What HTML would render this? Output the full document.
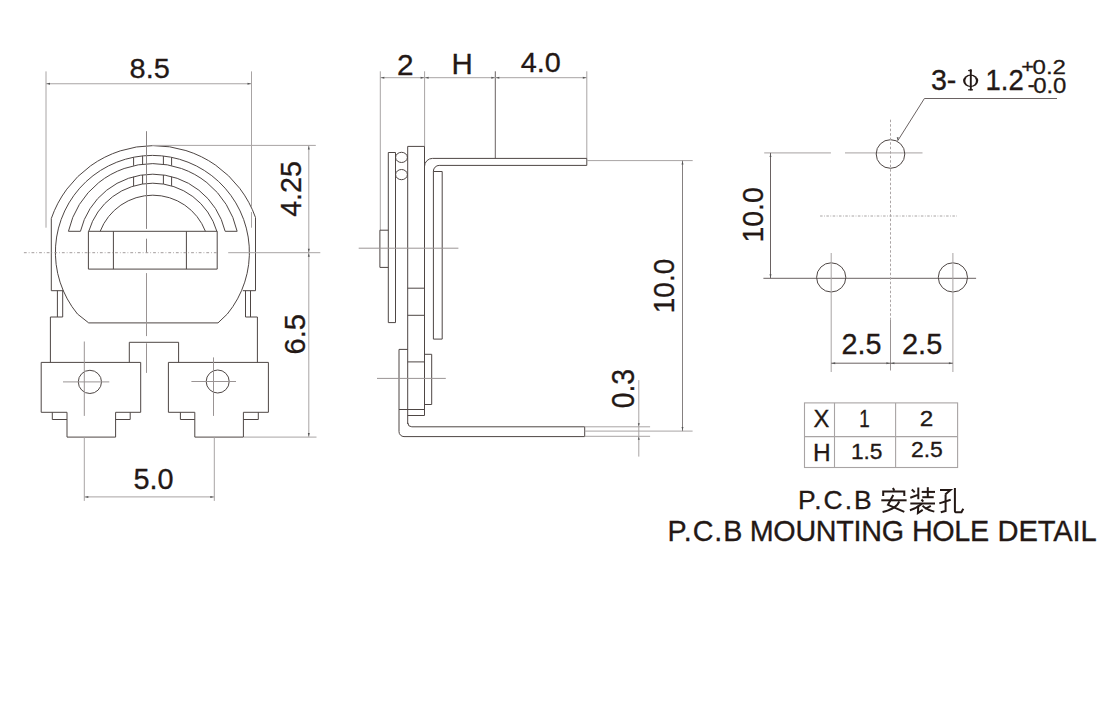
<!DOCTYPE html>
<html><head><meta charset="utf-8"><style>
html,body{margin:0;padding:0;background:#fff;}
svg{display:block;}
text{font-family:"Liberation Sans",sans-serif;fill:#231815;}
</style></head><body>
<svg width="1120" height="712" viewBox="0 0 1120 712">
<rect width="1120" height="712" fill="#fff"/>
<path d="M51.3,290.7 V218.5 A108.2,108.2 0 0 1 255.5,217.5 V290.7" stroke="#4e4644" stroke-width="1.0" fill="none" />
<path d="M51.3,290.7 H63.7" stroke="#4e4644" stroke-width="1.0" fill="none" />
<path d="M57.4,290.7 V317 M62.7,290.7 V317 M50.4,317 H62.7 M50.4,317 V362.4" stroke="#4e4644" stroke-width="1.0" fill="none" />
<path d="M255.5,290.7 H242.8" stroke="#4e4644" stroke-width="1.0" fill="none" />
<path d="M245.5,290.7 V317 M250.5,290.7 V317 M245.5,317 H257.4 M257.4,317 V362.4" stroke="#4e4644" stroke-width="1.0" fill="none" />
<path d="M88.7,322.9 L77.47,314.0 A97.0,97.0 0 1 1 227.33,314.0 L218,322.9 Z" stroke="#4e4644" stroke-width="1.0" fill="none" />
<path d="M68.45,231.3 A86.4,86.4 0 0 1 237.15,231.3 L225.16,231.3 A74.4,74.4 0 0 0 80.44,231.3 Z" stroke="#4e4644" stroke-width="1.0" fill="none" />
<path d="M88.75,231.3 A66.7,66.7 0 0 1 216.85,231.3" stroke="#4e4644" stroke-width="1.0" fill="none" />
<path d="M100.18,231.3 A56.4,56.4 0 0 1 205.42,231.3" stroke="#4e4644" stroke-width="1.0" fill="none" />
<path d="M88.4,231.3 H217.2 V269.1 H88.4 Z M113.4,231.3 V269.1 M186.4,231.3 V269.1" stroke="#4e4644" stroke-width="1.0" fill="none" />
<path d="M133.6,157.24 V165.76" stroke="#4e4644" stroke-width="1.0" fill="none" />
<path d="M133.6,176.72 V186.02" stroke="#4e4644" stroke-width="1.0" fill="none" />
<path d="M142.6,155.90 V164.20" stroke="#4e4644" stroke-width="1.0" fill="none" />
<path d="M142.6,174.90 V183.98" stroke="#4e4644" stroke-width="1.0" fill="none" />
<path d="M163.4,156.03 V164.25" stroke="#4e4644" stroke-width="1.0" fill="none" />
<path d="M163.4,174.96 V184.05" stroke="#4e4644" stroke-width="1.0" fill="none" />
<path d="M171.6,157.32 V165.67" stroke="#4e4644" stroke-width="1.0" fill="none" />
<path d="M171.6,176.61 V185.90" stroke="#4e4644" stroke-width="1.0" fill="none" />
<path d="M129.3,362.4 V342.3 H178.6 V362.4" stroke="#4e4644" stroke-width="1.0" fill="none" />
<path d="M41.2,362.4 H140.7 V412.3 H115.6 V437.1 H67 V412.3 H41.2 Z M52.3,412.3 V419.5 H67 M115.6,419.5 H130.2 V412.3" stroke="#4e4644" stroke-width="1.0" fill="none" />
<path d="M168.4,362.4 H268.4 V412.3 H243.4 V437.1 H194.8 V412.3 H168.4 Z M180.4,412.3 V419.5 H194.8 M243.4,419.5 H258.3 V412.3" stroke="#4e4644" stroke-width="1.0" fill="none" />
<circle cx="89.9" cy="381.9" r="11.6" stroke="#4e4644" stroke-width="1.0" fill="none"/>
<circle cx="217.7" cy="381.5" r="11.5" stroke="#4e4644" stroke-width="1.0" fill="none"/>
<line x1="63" y1="381.9" x2="109.3" y2="381.9" stroke="#9a9494" stroke-width="1.0" />
<line x1="84.3" y1="341.5" x2="84.3" y2="415.9" stroke="#9a9494" stroke-width="1.0" />
<line x1="191.4" y1="381.5" x2="236" y2="381.5" stroke="#9a9494" stroke-width="1.0" />
<line x1="213.5" y1="357.4" x2="213.5" y2="415.9" stroke="#9a9494" stroke-width="1.0" />
<line x1="146.5" y1="131.2" x2="146.5" y2="228.9" stroke="#8a8484" stroke-width="1.0" />
<line x1="146.5" y1="238.7" x2="146.5" y2="252.7" stroke="#8a8484" stroke-width="1.0" />
<line x1="146.5" y1="273.1" x2="146.5" y2="336.1" stroke="#9a9494" stroke-width="1.0" />
<line x1="146.5" y1="343.3" x2="146.5" y2="372.9" stroke="#9a9494" stroke-width="1.0" />
<line x1="23.9" y1="252.7" x2="217" y2="252.7" stroke="#a29c9c" stroke-width="1.0" stroke-dasharray="2.8 2 0.8 2"/>
<line x1="228.2" y1="252.7" x2="320.3" y2="252.7" stroke="#a8a4a4" stroke-width="1.0" />
<line x1="46" y1="71.4" x2="46" y2="227.7" stroke="#a8a4a4" stroke-width="1.0" />
<line x1="251.5" y1="71.4" x2="251.5" y2="207.0" stroke="#a8a4a4" stroke-width="1.0" />
<line x1="251.5" y1="212.0" x2="251.5" y2="227.7" stroke="#a8a4a4" stroke-width="1.0" />
<line x1="46" y1="83.75" x2="251.5" y2="83.75" stroke="#a8a4a4" stroke-width="1.0" />
<path d="M46.5,83.75 L50.0,82.75 L50.0,84.75 Z" fill="#555" stroke="none"/>
<path d="M251,83.75 L247.5,82.75 L247.5,84.75 Z" fill="#555" stroke="none"/>
<text transform="matrix(0.28931 0 0 0.28451 129.54 77.82)" font-size="100" stroke="#231815" stroke-width="1.04">8.5</text>
<line x1="152.1" y1="145.4" x2="315.8" y2="145.4" stroke="#a8a4a4" stroke-width="1.0" />
<line x1="308.8" y1="145.4" x2="308.8" y2="436.9" stroke="#a8a4a4" stroke-width="1.0" />
<line x1="244" y1="437.1" x2="316.5" y2="437.1" stroke="#a8a4a4" stroke-width="1.0" />
<path d="M308.8,145.9 L307.8,149.4 L309.8,149.4 Z" fill="#555" stroke="none"/>
<path d="M308.8,252.2 L307.8,248.7 L309.8,248.7 Z" fill="#555" stroke="none"/>
<path d="M308.8,253.2 L307.8,256.7 L309.8,256.7 Z" fill="#555" stroke="none"/>
<path d="M308.8,436.6 L307.8,433.1 L309.8,433.1 Z" fill="#555" stroke="none"/>
<text transform="matrix(0 -0.28670 0.29577 0 300.80 216.87)" font-size="100" stroke="#231815" stroke-width="1.05">4.25</text>
<text transform="matrix(0 -0.29154 0.29155 0 305.11 354.56)" font-size="100" stroke="#231815" stroke-width="1.03">6.5</text>
<line x1="84.3" y1="437.4" x2="84.3" y2="500.9" stroke="#a8a4a4" stroke-width="1.0" />
<line x1="214.3" y1="437.4" x2="214.3" y2="500.9" stroke="#a8a4a4" stroke-width="1.0" />
<line x1="84.3" y1="496.9" x2="214.3" y2="496.9" stroke="#a8a4a4" stroke-width="1.0" />
<path d="M84.8,496.9 L88.3,495.9 L88.3,497.9 Z" fill="#555" stroke="none"/>
<path d="M213.8,496.9 L210.3,495.9 L210.3,497.9 Z" fill="#555" stroke="none"/>
<text transform="matrix(0.28855 0 0 0.29155 133.55 488.51)" font-size="100" stroke="#231815" stroke-width="1.04">5.0</text>
<line x1="380.3" y1="71.3" x2="380.3" y2="230.2" stroke="#a8a4a4" stroke-width="1.0" />
<line x1="424.6" y1="71.3" x2="424.6" y2="146.4" stroke="#a8a4a4" stroke-width="1.0" />
<line x1="495.3" y1="71.3" x2="495.3" y2="158.3" stroke="#6a6262" stroke-width="1.0" />
<line x1="586.8" y1="71.3" x2="586.8" y2="158.3" stroke="#a8a4a4" stroke-width="1.0" />
<line x1="380.3" y1="77.7" x2="586.8" y2="77.7" stroke="#a8a4a4" stroke-width="1.0" />
<path d="M380.8,77.7 L384.3,76.7 L384.3,78.7 Z" fill="#555" stroke="none"/>
<path d="M424.1,77.7 L420.6,76.7 L420.6,78.7 Z" fill="#555" stroke="none"/>
<path d="M425.1,77.7 L428.6,76.7 L428.6,78.7 Z" fill="#555" stroke="none"/>
<path d="M494.8,77.7 L491.3,76.7 L491.3,78.7 Z" fill="#555" stroke="none"/>
<path d="M495.8,77.7 L499.3,76.7 L499.3,78.7 Z" fill="#555" stroke="none"/>
<path d="M586.3,77.7 L582.8,76.7 L582.8,78.7 Z" fill="#555" stroke="none"/>
<text transform="matrix(0.29783 0 0 0.29286 396.91 74.70)" font-size="100" stroke="#231815" stroke-width="1.01">2</text>
<text transform="matrix(0.29464 0 0 0.29420 451.54 74.30)" font-size="100" stroke="#231815" stroke-width="1.02">H</text>
<text transform="matrix(0.28797 0 0 0.28169 520.72 71.72)" font-size="100" stroke="#231815" stroke-width="1.04">4.0</text>
<path d="M388.3,322.6 V152.5 H395.5 V322.6 Z" stroke="#4e4644" stroke-width="1.0" fill="none" />
<ellipse cx="401.5" cy="157.4" rx="5.9" ry="5.1" stroke="#4e4644" stroke-width="1.0" fill="none"/>
<ellipse cx="401.5" cy="174.6" rx="5.9" ry="5.1" stroke="#4e4644" stroke-width="1.0" fill="none"/>
<path d="M407.7,424.0 V146.4 H424.5 V415.5 H407.7" stroke="#4e4644" stroke-width="1.0" fill="none" />
<path d="M407.7,288.2 H424.5 M407.7,315.3 H424.5 M407.7,361.9 H424.5 M399,409.5 H424.5" stroke="#4e4644" stroke-width="1.0" fill="none" />
<path d="M388.3,230.2 H379.9 V267.4 H388.3" stroke="#4e4644" stroke-width="1.0" fill="none" />
<path d="M424.5,166.5 A8,8 0 0 1 432.5,158.4 H586.8 V165.4 H439.2 A5.8,5.8 0 0 0 433.4,171.2 V339.1 H442.2 V171.5 H433.4" stroke="#4e4644" stroke-width="1.0" fill="none" />
<path d="M407.7,349.4 H399 V431.6 A5,5 0 0 0 404,436.6 H584.7 V426.8 H411.8 A4,4 0 0 1 407.8,422.8" stroke="#4e4644" stroke-width="1.0" fill="none" />
<path d="M424.5,354.3 H431.7 V404.5 H424.5" stroke="#4e4644" stroke-width="1.0" fill="none" />
<line x1="358.7" y1="248.2" x2="458.4" y2="248.2" stroke="#9a9494" stroke-width="1.0" />
<line x1="377" y1="378.4" x2="445.8" y2="378.4" stroke="#9a9494" stroke-width="1.0" />
<line x1="586.8" y1="160.6" x2="692.7" y2="160.6" stroke="#a8a4a4" stroke-width="1.0" />
<line x1="584.7" y1="431.1" x2="692.6" y2="431.1" stroke="#a8a4a4" stroke-width="1.0" />
<line x1="682.5" y1="160.6" x2="682.5" y2="431.1" stroke="#858080" stroke-width="1.0" />
<path d="M682.5,161.1 L681.5,164.6 L683.5,164.6 Z" fill="#555" stroke="none"/>
<path d="M682.5,430.6 L681.5,427.1 L683.5,427.1 Z" fill="#555" stroke="none"/>
<text transform="matrix(0 -0.27978 0.29014 0 673.61 313.24)" font-size="100" stroke="#231815" stroke-width="1.07">10.0</text>
<line x1="584.7" y1="426.8" x2="650.1" y2="426.8" stroke="#a8a4a4" stroke-width="1.0" />
<line x1="584.7" y1="436.3" x2="650.1" y2="436.3" stroke="#a8a4a4" stroke-width="1.0" />
<line x1="638.8" y1="380.1" x2="638.8" y2="456.6" stroke="#a8a4a4" stroke-width="1.0" />
<path d="M638.8,426.3 L637.8,423.3 L639.8,423.3 Z" fill="#555" stroke="none"/>
<path d="M638.8,436.8 L637.8,439.8 L639.8,439.8 Z" fill="#555" stroke="none"/>
<text transform="matrix(0 -0.28321 0.30563 0 633.89 408.33)" font-size="100" stroke="#231815" stroke-width="1.06">0.3</text>
<line x1="764.2" y1="152.9" x2="830.9" y2="152.9" stroke="#b8b4b4" stroke-width="1.4" />
<line x1="845" y1="152.9" x2="922.5" y2="152.9" stroke="#b8b4b4" stroke-width="1.4" />
<line x1="770.5" y1="152.9" x2="770.5" y2="278.2" stroke="#6a6262" stroke-width="1.0" />
<path d="M770.5,153.4 L769.5,156.9 L771.5,156.9 Z" fill="#555" stroke="none"/>
<path d="M770.5,277.7 L769.5,274.2 L771.5,274.2 Z" fill="#555" stroke="none"/>
<line x1="763.4" y1="278.3" x2="976.1" y2="278.3" stroke="#6a6262" stroke-width="1.0" />
<circle cx="890.5" cy="154.0" r="14.3" stroke="#4e4644" stroke-width="1.0" fill="none"/>
<circle cx="831.2" cy="277.4" r="14.6" stroke="#4e4644" stroke-width="1.0" fill="none"/>
<circle cx="952.9" cy="277.4" r="14.6" stroke="#4e4644" stroke-width="1.0" fill="none"/>
<line x1="890.5" y1="119.7" x2="890.5" y2="319.4" stroke="#aaa4a4" stroke-width="1.0" stroke-dasharray="2.5 2"/>
<line x1="890.5" y1="319.4" x2="890.5" y2="370.5" stroke="#9a9494" stroke-width="1.0" />
<line x1="820.1" y1="216" x2="957" y2="216" stroke="#a8a4a4" stroke-width="1.0" stroke-dasharray="2.5 1.5 0.8 1.5"/>
<line x1="831.2" y1="253" x2="831.2" y2="372" stroke="#a8a4a4" stroke-width="1.0" />
<line x1="952.9" y1="253" x2="952.9" y2="372" stroke="#a8a4a4" stroke-width="1.0" />
<line x1="831.2" y1="363.2" x2="952.9" y2="363.2" stroke="#6a6262" stroke-width="1.0" />
<path d="M831.7,363.2 L835.2,362.2 L835.2,364.2 Z" fill="#555" stroke="none"/>
<path d="M889.9,363.2 L886.4,362.2 L886.4,364.2 Z" fill="#555" stroke="none"/>
<path d="M890.9,363.2 L894.4,362.2 L894.4,364.2 Z" fill="#555" stroke="none"/>
<path d="M952.4,363.2 L948.9,362.2 L948.9,364.2 Z" fill="#555" stroke="none"/>
<text transform="matrix(0 -0.28415 0.30000 0 762.90 242.57)" font-size="100" stroke="#231815" stroke-width="1.06">10.0</text>
<text transform="matrix(0.28769 0 0 0.28873 841.46 353.81)" font-size="100" stroke="#231815" stroke-width="1.04">2.5</text>
<text transform="matrix(0.28923 0 0 0.28873 902.05 353.81)" font-size="100" stroke="#231815" stroke-width="1.04">2.5</text>
<path d="M897.7,140.8 L924.4,98.5 H1057" stroke="#6a6262" stroke-width="1.0" fill="none" />
<path d="M897.7,140.8 L896.7,137.3 L898.7,137.3 Z" fill="#555" stroke="none"/>
<text transform="matrix(0.28625 0 0 0.28873 930.96 89.71)" font-size="100" stroke="#231815" stroke-width="1.05">3-</text>
<ellipse cx="970.65" cy="80.85" rx="7.55" ry="6.25" fill="#231815"/><ellipse cx="970.65" cy="80.85" rx="5.3" ry="5.05" fill="#fff"/>
<path d="M970.8,69.6 V90.4" stroke="#231815" stroke-width="1.9" fill="none" />
<path d="M968.1,89.8 H973.0" stroke="#231815" stroke-width="1.2" fill="none" />
<path d="M968.0,70.6 L971.2,69.6 V71.5 Z" stroke="#231815" stroke-width="0.6" fill="#231815" />
<text transform="matrix(0.27460 0 0 0.29286 985.60 90.00)" font-size="100" stroke="#231815" stroke-width="1.09">1.2</text>
<text transform="matrix(0.24077 0 0 0.20986 1032.54 74.19)" font-size="100" stroke="#231815" stroke-width="1.25">0.2</text>
<text transform="matrix(0.21837 0 0 0.18367 1021.31 73.45)" font-size="100" stroke="#231815" stroke-width="1.37">+</text>
<text transform="matrix(0.23969 0 0 0.21408 1033.14 93.29)" font-size="100" stroke="#231815" stroke-width="1.25">0.0</text>
<text transform="matrix(0.20800 0 0 0.22500 1027.77 91.77)" font-size="100" stroke="#231815" stroke-width="1.44">-</text>
<rect x="804.5" y="402.9" width="153.1" height="64.6" fill="none" stroke="#a8a4a4" stroke-width="1.1"/>
<line x1="804.5" y1="436.6" x2="957.6" y2="436.6" stroke="#a8a4a4" stroke-width="1.1" />
<line x1="834.5" y1="402.9" x2="834.5" y2="467.5" stroke="#a8a4a4" stroke-width="1.1" />
<line x1="895.6" y1="402.9" x2="895.6" y2="467.5" stroke="#a8a4a4" stroke-width="1.1" />
<text transform="matrix(0.23770 0 0 0.23768 813.39 427.00)" font-size="100" stroke="#231815" stroke-width="1.26">X</text>
<text transform="matrix(0.18837 0 0 0.23333 859.19 427.00)" font-size="100" stroke="#231815" stroke-width="1.59">1</text>
<text transform="matrix(0.24348 0 0 0.22714 919.78 426.00)" font-size="100" stroke="#231815" stroke-width="1.23">2</text>
<text transform="matrix(0.24464 0 0 0.23333 812.94 460.70)" font-size="100" stroke="#231815" stroke-width="1.23">H</text>
<text transform="matrix(0.22756 0 0 0.23000 850.88 458.57)" font-size="100" stroke="#231815" stroke-width="1.32">1.5</text>
<text transform="matrix(0.22923 0 0 0.22676 910.95 457.27)" font-size="100" stroke="#231815" stroke-width="1.31">2.5</text>
<text transform="matrix(0.26479 0 0 0.26479 797.88 509.34)" font-size="100" letter-spacing="7.72" stroke="#231815" stroke-width="1.13">P.C.B</text>
<text transform="matrix(0.28732 0 0 0.28732 667.50 540.51)" font-size="100" letter-spacing="3.03" stroke="#231815" stroke-width="1.04">P.C.B</text>
<text transform="matrix(0.28732 0 0 0.28732 749.70 540.51)" font-size="100" letter-spacing="-0.99" stroke="#231815" stroke-width="1.04">MOUNTING</text>
<text transform="matrix(0.28732 0 0 0.28732 911.90 540.51)" font-size="100" letter-spacing="-1.17" stroke="#231815" stroke-width="1.04">HOLE</text>
<text transform="matrix(0.29143 0 0 0.29143 997.47 540.51)" font-size="100" letter-spacing="-0.32" stroke="#231815" stroke-width="1.03">DETAIL</text>
<g id="cjk" fill="none" stroke="#231815" stroke-width="2.0" stroke-linejoin="miter"><path d="M892.9,488.1 L894.4,490.8"/><path d="M883.2,496.0 V491.5 H904.3 V496.0"/><path d="M893.3,495.1 L888.0,504.8 L904.3,511.8"/><path d="M881.3,500.3 H906.6"/><path d="M899.2,501.4 Q897.0,508.5 882.6,512.0"/><path d="M911.8,489.6 L914.7,492.3"/><path d="M910.3,497.8 L917.9,494.9"/><path d="M918.3,487.5 V499.2"/><path d="M921.7,491.9 H935.0"/><path d="M927.8,487.2 V497.2"/><path d="M922.3,497.2 H933.7"/><path d="M921.5,499.5 L923.2,501.6"/><path d="M910.3,503.5 H935.0"/><path d="M921.9,503.8 Q917,508 909.9,510.2"/><path d="M918.3,505.8 L917.9,513.0 L922.7,509.8"/><path d="M922.5,505.6 Q926,509.5 934.3,511.6"/><path d="M930.8,505.8 L925.3,508.8"/><path d="M940.0,490.0 H950.5 L945.2,494.6"/><path d="M945.6,494.4 V510.9 L940.8,512.3"/><path d="M939.3,503.4 L950.7,499.7"/><path d="M954.9,487.9 V511.0 Q954.9,512.3 956.8,512.3 H961.4 L963.3,508.8"/></g>
<!--CJK-->
</svg>
</body></html>
